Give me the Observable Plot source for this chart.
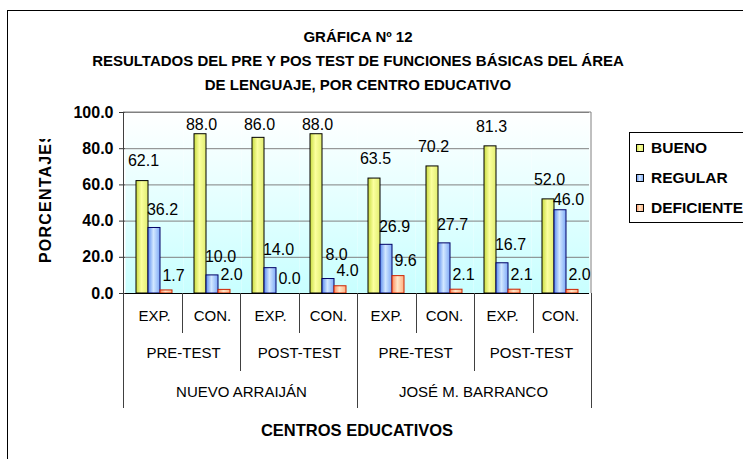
<!DOCTYPE html>
<html><head><meta charset="utf-8">
<script src="https://cdn.jsdelivr.net/npm/d3@7"></script>
<script src="https://cdn.jsdelivr.net/npm/@observablehq/plot@0.6"></script>
<style>
body{margin:0;background:#fff;}
#chart svg{display:block;}
#chart [aria-label="y-axis tick label"]{font-weight:bold;}
</style></head>
<body><div id="chart"></div>
<script>
// ---- data ----
const titleLines = ["GRÁFICA Nº 12", "RESULTADOS DEL PRE Y POS TEST DE FUNCIONES BÁSICAS DEL ÁREA", "DE LENGUAJE, POR CENTRO EDUCATIVO"];
const yLabel = "PORCENTAJES";
const xLabel = "CENTROS EDUCATIVOS";
const centros = ["NUEVO ARRAIJÁN", "JOSÉ M. BARRANCO"];
const pruebas = ["PRE-TEST", "POST-TEST"];
const grupos = ["EXP.", "CON."];
const series = ["BUENO", "REGULAR", "DEFICIENTE"];
const bueno = [62.1, 88.0, 86.0, 88.0, 63.5, 70.2, 81.3, 52.0];
const regular = [36.2, 10.0, 14.0, 8.0, 26.9, 27.7, 16.7, 46.0];
const deficiente = [1.7, 2.0, 0.0, 4.0, 9.6, 2.1, 2.1, 2.0];
const yTicks = [0, 20, 40, 60, 80, 100];

// ---- derived tables ----
const categories = [];
centros.forEach(c => pruebas.forEach(p => grupos.forEach(g => categories.push({key: c + "|" + p + "|" + g, centro: c, prueba: p, grupo: g}))));
const values = [bueno, regular, deficiente];
const rows = [];
categories.forEach((cat, i) => {
  // label placement (in value units) with simple collision avoidance
  const gap = [11, 10, 8.3];
  const ly = values.map((v, j) => Math.min(v[i] + gap[j], 93));
  if (Math.abs(ly[0] - ly[1]) < 8) ly[1] = values[1][i] + 6;
  if (Math.abs(ly[1] - ly[2]) < 8) ly[1] = ly[2] + 9;
  series.forEach((s, j) => rows.push({key: cat.key, serie: s, value: values[j][i], labelY: ly[j]}));
});
const keys = categories.map(c => c.key);

const FONT = "'Liberation Sans', Arial, sans-serif";
const W = 743, H = 459;
const fills = {BUENO: "url(#gB)", REGULAR: "url(#gR)", DEFICIENTE: "url(#gD)"};
const strokes = {BUENO: "#000000", REGULAR: "#000066", DEFICIENTE: "#cc2200"};
const ldx = {BUENO: 1, REGULAR: 8, DEFICIENTE: 7};

const barMarks = series.map(s => Plot.barY(rows.filter(d => d.serie === s), {
  fx: "key", x: "serie", y: "value", fill: fills[s], stroke: strokes[s], strokeWidth: 1
}));
const labelMarks = series.map(s => Plot.text(rows.filter(d => d.serie === s), {
  fx: "key", x: "serie", y: "labelY", text: d => d.value.toFixed(1),
  dx: ldx[s], fontSize: 16, fill: "#000"
}));

const plot = Plot.plot({
  width: W, height: H,
  marginTop: 112, marginBottom: 166, marginLeft: 123, marginRight: 152,
  style: {fontFamily: FONT, fontSize: "15px", color: "#000", background: "transparent"},
  fx: {domain: keys, padding: 0, axis: null, label: null},
  x: {domain: series, paddingInner: 0, paddingOuter: 0.75, axis: null},
  y: {domain: [0, 100]},
  marks: [
    Plot.frame({fill: "url(#bgGrad)", stroke: null}),
    Plot.gridY(yTicks, {stroke: "#808080", strokeOpacity: 1}),
    ...barMarks,
    Plot.ruleY([0], {stroke: "#000"}),
    ...labelMarks,
    Plot.axisY({ticks: yTicks, tickFormat: d => d.toFixed(1), tickSize: 6, tickPadding: 6, fontWeight: "bold", fontSize: 16, label: null, anchor: "left", stroke: "#333"}),
    Plot.text(categories, {fx: "key", text: "grupo", frameAnchor: "bottom", dy: 27, fontSize: 15}),
    Plot.text(categories.filter(c => c.grupo === grupos[0]), {fx: "key", text: "prueba", frameAnchor: "bottom-right", textAnchor: "middle", dy: 64, fontSize: 15}),
    Plot.text(categories.filter(c => c.grupo === grupos[1] && c.prueba === pruebas[0]), {fx: "key", text: "centro", frameAnchor: "bottom-right", textAnchor: "middle", dy: 103, fontSize: 15})
  ]
});
document.getElementById("chart").appendChild(plot);

// ---- decorations from the plot's own scales ----
const svg = d3.select(plot);
const fxS = plot.scale("fx");
const yS = plot.scale("y");
const band = d3.scaleBand(fxS.domain, fxS.range).padding(0);
const y = d3.scaleLinear(yS.domain, yS.range);
const x0 = band.range()[0], x1 = band.range()[1];

const defs = svg.insert("defs", ":first-child");
function hgrad(id, stops) {
  const g = defs.append("linearGradient").attr("id", id).attr("x1", 0).attr("x2", 1).attr("y1", 0).attr("y2", 0);
  stops.forEach(([o, c]) => g.append("stop").attr("offset", o).attr("stop-color", c));
}
hgrad("gB", [[0, "#c8dc40"], [0.45, "#fbff9e"], [1, "#e2ee70"]]);
hgrad("gR", [[0, "#5b8cf0"], [0.45, "#d2e8ff"], [1, "#7eaaf8"]]);
hgrad("gD", [[0, "#ff8a5a"], [0.45, "#ffe6c8"], [1, "#ffb080"]]);
const bg = defs.append("linearGradient").attr("id", "bgGrad").attr("x1", 0).attr("x2", 0).attr("y1", 0).attr("y2", 1);
bg.append("stop").attr("offset", 0).attr("stop-color", "#ffffff");
bg.append("stop").attr("offset", 1).attr("stop-color", "#c8ffff");
defs.append("clipPath").attr("id", "ylabClip").append("rect").attr("x", 0).attr("y", 139).attr("width", 100).attr("height", 300);

const deco = svg.append("g").attr("text-anchor", "start");
// outer chart border
deco.append("rect").attr("x", 7.5).attr("y", 10.5).attr("width", 800).attr("height", 500).attr("fill", "none").attr("stroke", "#000");
// plot area border (top/right)
deco.append("path").attr("d", `M${x0},${y(100)}H${x1}V${y(0)}`).attr("fill", "none").attr("stroke", "#808080");
// category separators
const rowBottom = [y(0) + 40, y(0) + 78, y(0) + 115];
for (let b = 0; b <= keys.length; b++) {
  let depth;
  if (b === 0 || b === keys.length) depth = 2;
  else {
    const a = categories[b - 1], c = categories[b];
    depth = a.centro !== c.centro ? 2 : a.prueba !== c.prueba ? 1 : 0;
  }
  const xx = Math.round(b === keys.length ? x1 : band(keys[b])) + 0.5;
  const top = b === 0 ? y(100) : y(0);
  deco.append("line").attr("x1", xx).attr("x2", xx).attr("y1", top).attr("y2", rowBottom[depth]).attr("stroke", "#404040");
}
// title
titleLines.forEach((t, i) => deco.append("text").attr("x", 358).attr("y", 37 + i * 24).attr("dy", "0.35em")
  .attr("text-anchor", "middle").attr("font-family", FONT).attr("font-weight", "bold").attr("font-size", 15).text(t));
// axis titles
deco.append("text").attr("x", (x0 + x1) / 2).attr("y", 430).attr("dy", "0.35em").attr("text-anchor", "middle")
  .attr("font-family", FONT).attr("font-weight", "bold").attr("font-size", 16.5).text(xLabel);
deco.append("g").attr("clip-path", "url(#ylabClip)").append("text")
  .attr("transform", "translate(45,263) rotate(-90)").attr("dy", "0.35em").attr("text-anchor", "start")
  .attr("font-family", FONT).attr("font-weight", "bold").attr("font-size", 16).attr("letter-spacing", 1.2).text(yLabel);
// legend
const leg = deco.append("g");
leg.append("rect").attr("x", 629.5).attr("y", 132.5).attr("width", 200).attr("height", 90).attr("fill", "#fff").attr("stroke", "#000");
series.forEach((s, i) => {
  const cy = 148 + i * 30;
  leg.append("rect").attr("x", 636.5).attr("y", cy - 3.5).attr("width", 7).attr("height", 7).attr("fill", fills[s]).attr("stroke", "#000");
  leg.append("text").attr("x", 651).attr("y", cy).attr("dy", "0.35em").attr("text-anchor", "start").attr("font-family", FONT).attr("font-weight", "bold").attr("font-size", 15.5).text(s);
});
</script>
</body></html>
